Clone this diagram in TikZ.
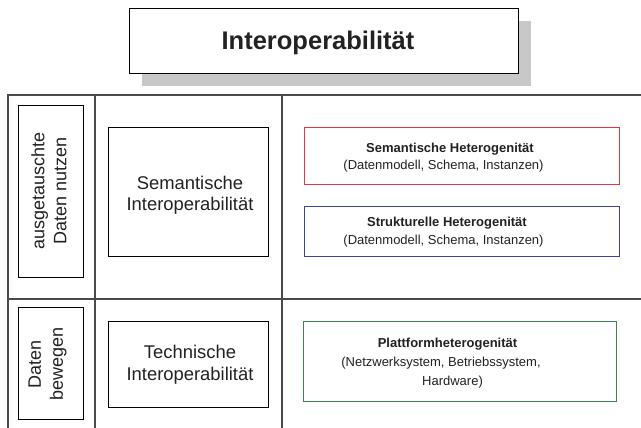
\documentclass[tikz,border=0pt]{standalone}
\usepackage{fontspec}
\setmainfont{Liberation Sans}
\definecolor{gridgray}{HTML}{4A4A4A}
\definecolor{shadowgray}{HTML}{C8C8C8}
\definecolor{inkgray}{HTML}{222222}
\definecolor{semred}{HTML}{E8363E}
\definecolor{strblue}{HTML}{3E4298}
\definecolor{platgreen}{HTML}{3F8055}
\begin{document}
\begin{tikzpicture}[x=1pt,y=-1pt,
  gridline/.style={draw=gridgray, line width=1.7pt},
  framebox/.style={draw=black, line width=1pt, fill=white, inner sep=0pt, anchor=north west},
  colorbox/.style={line width=1.1pt, fill=white, inner sep=0pt, anchor=north west},
  bigtext/.style={text=inkgray, inner sep=0pt, anchor=base, font=\fontsize{18.4}{22}\selectfont},
  sidetext/.style={text=inkgray, inner sep=0pt, rotate=90, align=center, font=\fontsize{18}{22}\selectfont},
  smallbold/.style={text=inkgray, inner sep=0pt, anchor=base, font=\fontsize{13}{16}\selectfont\bfseries},
  smalltext/.style={text=inkgray, inner sep=0pt, anchor=base, font=\fontsize{13}{16}\selectfont},
]
\useasboundingbox (0,0) rectangle (641,428);
\clip (0,0) rectangle (641,428);

% title with drop shadow
\fill[shadowgray] (142,21) rectangle (531,86);
\node[framebox, minimum width=389pt, minimum height=65pt] (title) at (129,8) {};
\node[text=inkgray, inner sep=0pt, anchor=base, font=\fontsize{25.5}{30}\selectfont\bfseries]
  (titletext) at (318,50) {Interoperabilität};

% table grid
\coordinate (tl) at (8,95);
\coordinate (tr) at (645,95);
\coordinate (ml) at (8,299);
\coordinate (mr) at (645,299);
\coordinate (bl) at (8,432);
\coordinate (c1t) at (95,95);
\coordinate (c1b) at (95,432);
\coordinate (c2t) at (282,95);
\coordinate (c2b) at (282,432);
\draw[gridline] (tr) -- (tl) -- (bl);
\draw[gridline] (ml) -- (mr);
\draw[gridline] (c1t) -- (c1b);
\draw[gridline] (c2t) -- (c2b);

% row labels
\node[framebox, minimum width=65pt, minimum height=172pt] (usebox) at (18,105) {};
\node[sidetext] (usetext) at (49,191) {ausgetauschte\\Daten nutzen};
\node[framebox, minimum width=65pt, minimum height=112pt] (movebox) at (18,307) {};
\node[sidetext] (movetext) at (47.5,364) {Daten\\bewegen};

% interoperability levels
\node[framebox, minimum width=160pt, minimum height=129pt] (sembox) at (108,127) {};
\node[bigtext] (sem1) at (190,189.5) {Semantische};
\node[bigtext] (sem2) at (190,211) {Interoperabilität};
\node[framebox, minimum width=160pt, minimum height=86pt] (techbox) at (108,321) {};
\node[bigtext] (tech1) at (190,358.5) {Technische};
\node[bigtext] (tech2) at (190,380) {Interoperabilität};

% heterogeneity kinds
\node[colorbox, draw=semred, minimum width=315pt, minimum height=57pt] (semhet) at (304,127) {};
\node[smallbold] (semhet1) at (450,152.5) {Semantische Heterogenität};
\node[smalltext] (semhet2) at (443.5,169.5) {(Datenmodell, Schema, Instanzen)};

\node[colorbox, draw=strblue, minimum width=315pt, minimum height=50pt] (strhet) at (304,206) {};
\node[smallbold] (strhet1) at (447,226) {Strukturelle Heterogenität};
\node[smalltext] (strhet2) at (443.5,244.5) {(Datenmodell, Schema, Instanzen)};

\node[colorbox, draw=platgreen, minimum width=313pt, minimum height=80pt] (plathet) at (303,321) {};
\node[smallbold] (plathet1) at (447.5,347.5) {Plattformheterogenität};
\node[smalltext] (plathet2) at (441,366) {(Netzwerksystem, Betriebssystem,};
\node[smalltext] (plathet3) at (452.5,385) {Hardware)};
\end{tikzpicture}
\end{document}
